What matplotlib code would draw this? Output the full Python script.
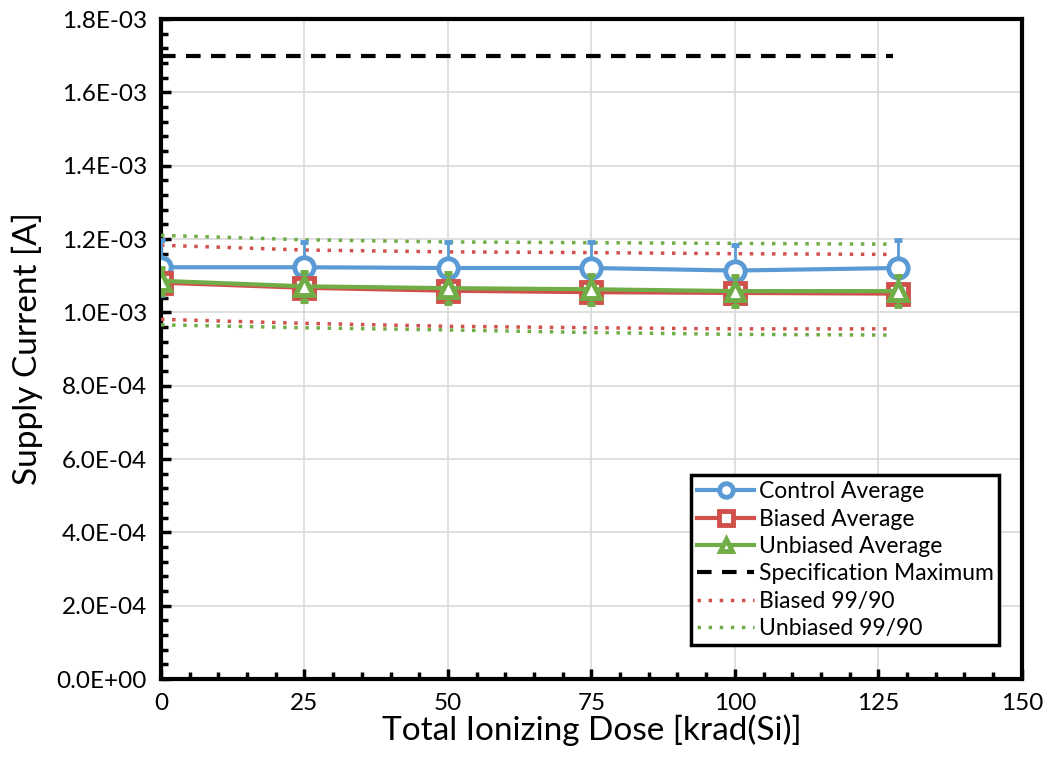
import matplotlib
matplotlib.use("Agg")
import matplotlib.pyplot as plt
from matplotlib.ticker import MultipleLocator, FuncFormatter

# Data
dose = [0, 25, 50, 75, 100, 128.5]
dose_lines = [0, 25, 50, 75, 100, 127.5]
control_avg = [1.123e-3, 1.123e-3, 1.121e-3, 1.121e-3, 1.114e-3, 1.121e-3]
control_err = [0.075e-3, 0.070e-3, 0.070e-3, 0.070e-3, 0.070e-3, 0.075e-3]
biased_avg = [1.081e-3, 1.067e-3, 1.059e-3, 1.055e-3, 1.053e-3, 1.051e-3]
biased_err = [0.020e-3, 0.025e-3, 0.025e-3, 0.025e-3, 0.025e-3, 0.025e-3]
unbiased_avg = [1.086e-3, 1.071e-3, 1.066e-3, 1.063e-3, 1.058e-3, 1.058e-3]
unbiased_err = [0.035e-3, 0.040e-3, 0.040e-3, 0.040e-3, 0.040e-3, 0.040e-3]
spec_max = [1.7e-3] * 6
biased_upper = [1.183e-3, 1.170e-3, 1.165e-3, 1.163e-3, 1.160e-3, 1.158e-3]
biased_lower = [0.981e-3, 0.970e-3, 0.962e-3, 0.958e-3, 0.955e-3, 0.955e-3]
unbiased_upper = [1.210e-3, 1.198e-3, 1.192e-3, 1.190e-3, 1.188e-3, 1.186e-3]
unbiased_lower = [0.966e-3, 0.958e-3, 0.952e-3, 0.945e-3, 0.940e-3, 0.938e-3]

blue = "#5B9BD5"
red = "#D0504B"
green = "#70AD47"

plt.rcParams['font.family'] = ['Lato', 'DejaVu Sans']

fig = plt.figure(figsize=(10.48, 7.67), dpi=100)
ax = fig.add_axes([0.1536, 0.1147, 0.8214, 0.8605])

dot = (0, (1, 2.2))
h_spec, = ax.plot(dose_lines, spec_max, color='black', lw=3, ls=(0, (3.5, 2.5)), zorder=3)
h_bq, = ax.plot(dose_lines, biased_upper, color=red, lw=2.5, ls=dot, zorder=3)
ax.plot(dose_lines, biased_lower, color=red, lw=2.5, ls=dot, zorder=3)
h_uq, = ax.plot(dose_lines, unbiased_upper, color=green, lw=2.5, ls=dot, zorder=3)
ax.plot(dose_lines, unbiased_lower, color=green, lw=2.5, ls=dot, zorder=3)

c_ctrl = ax.errorbar(dose, control_avg, yerr=control_err, color=blue, lw=3, marker='o', ms=14,
                     mfc='white', mec=blue, mew=3.5, capsize=3, elinewidth=2, capthick=2, zorder=5)
c_bias = ax.errorbar(dose, biased_avg, yerr=biased_err, color=red, lw=3, marker='s', ms=14,
                     mfc='white', mec=red, mew=3.5, capsize=3, elinewidth=2, capthick=2, zorder=6)
c_unb = ax.errorbar(dose, unbiased_avg, yerr=unbiased_err, color=green, lw=3, marker='^', ms=13,
                    mfc='white', mec=green, mew=3.5, capsize=3, elinewidth=2, capthick=2, zorder=7)

ax.set_xlim(0, 150)
ax.set_ylim(0, 1.8e-3)
ax.xaxis.set_major_locator(MultipleLocator(25))
ax.xaxis.set_minor_locator(MultipleLocator(5))
ax.yaxis.set_major_locator(MultipleLocator(0.2e-3))
ax.yaxis.set_minor_locator(MultipleLocator(0.04e-3))
ax.yaxis.set_major_formatter(FuncFormatter(lambda v, p: '{:.1E}'.format(v)))
ax.grid(True, which='major', color='#D9D9D9', lw=1.2, zorder=0)
ax.set_axisbelow(True)

for s in ax.spines.values():
    s.set_linewidth(3)
    s.set_color('black')

ax.tick_params(which='both', direction='in', width=2.5, colors='black', labelsize=17.5,
               top=False, right=False)
ax.tick_params(which='major', length=7, pad=10)
ax.tick_params(which='minor', length=5)

ax.set_xlabel('Total Ionizing Dose [krad(Si)]', fontsize=24, labelpad=0)
ax.set_ylabel('Supply Current [A]', fontsize=24, labelpad=10)

handles = [c_ctrl.lines[0], c_bias.lines[0], c_unb.lines[0], h_spec, h_bq, h_uq]
labels = ['Control Average', 'Biased Average', 'Unbiased Average',
          'Specification Maximum', 'Biased 99/90', 'Unbiased 99/90']
leg = ax.legend(handles, labels, loc='lower right',
                bbox_to_anchor=(0.974, 0.0515), fontsize=16.5, frameon=True,
                fancybox=False, edgecolor='black', framealpha=1,
                handlelength=2.5, handletextpad=0.2, labelspacing=0.28,
                borderpad=0.25, borderaxespad=0, markerscale=0.7)
leg.get_frame().set_linewidth(2.5)

fig.savefig('out.png', dpi=100)
